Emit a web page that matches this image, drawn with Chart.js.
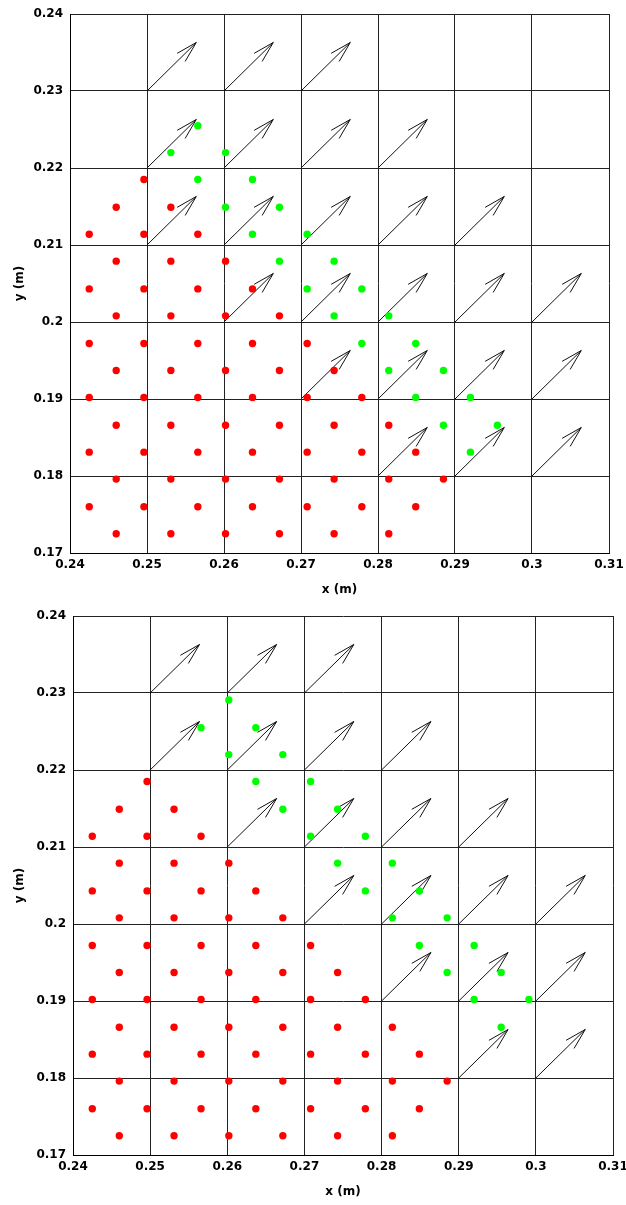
<!DOCTYPE html>
<html>
<head>
<meta charset="utf-8">
<script src="https://cdn.jsdelivr.net/npm/chart.js@4.4.1/dist/chart.umd.min.js"></script>
<style>
  html, body { margin: 0; padding: 0; background: #fff; }
  body { width: 626px; height: 1205px; position: relative; overflow: hidden; }
  canvas { position: absolute; left: 0; }
  #top { top: 0; }
  #bottom { top: 602px; }
</style>
</head>
<body>
<canvas id="top" width="626" height="600"></canvas>
<canvas id="bottom" width="626" height="600"></canvas>
<script>
// axis ticks
const xTickValues = [0.24, 0.25, 0.26, 0.27, 0.28, 0.29, 0.30, 0.31];
const xTickLabels = ['0.24', '0.25', '0.26', '0.27', '0.28', '0.29', '0.3', '0.31'];
const yTickValues = [0.17, 0.18, 0.19, 0.20, 0.21, 0.22, 0.23, 0.24];
const yTickLabels = ['0.17', '0.18', '0.19', '0.2', '0.21', '0.22', '0.23', '0.24'];

// particles, first frame [x, y]
const redTop = [
  [0.2460,0.1725],[0.2531,0.1725],[0.2602,0.1725],[0.2672,0.1725],[0.2743,0.1725],[0.2814,0.1725],
  [0.2425,0.1760],[0.2496,0.1760],[0.2566,0.1760],[0.2637,0.1760],[0.2708,0.1760],[0.2779,0.1760],[0.2849,0.1760],
  [0.2460,0.1796],[0.2531,0.1796],[0.2602,0.1796],[0.2672,0.1796],[0.2743,0.1796],[0.2814,0.1796],[0.2885,0.1796],
  [0.2425,0.1831],[0.2496,0.1831],[0.2566,0.1831],[0.2637,0.1831],[0.2708,0.1831],[0.2779,0.1831],[0.2849,0.1831],
  [0.2460,0.1866],[0.2531,0.1866],[0.2602,0.1866],[0.2672,0.1866],[0.2743,0.1866],[0.2814,0.1866],
  [0.2425,0.1902],[0.2496,0.1902],[0.2566,0.1902],[0.2637,0.1902],[0.2708,0.1902],[0.2779,0.1902],
  [0.2460,0.1937],[0.2531,0.1937],[0.2602,0.1937],[0.2672,0.1937],[0.2743,0.1937],
  [0.2425,0.1972],[0.2496,0.1972],[0.2566,0.1972],[0.2637,0.1972],[0.2708,0.1972],
  [0.2460,0.2008],[0.2531,0.2008],[0.2602,0.2008],[0.2672,0.2008],
  [0.2425,0.2043],[0.2496,0.2043],[0.2566,0.2043],[0.2637,0.2043],
  [0.2460,0.2079],[0.2531,0.2079],[0.2602,0.2079],
  [0.2425,0.2114],[0.2496,0.2114],[0.2566,0.2114],
  [0.2460,0.2149],[0.2531,0.2149],
  [0.2496,0.2185]
];
const greenTop = [
  [0.2920,0.1831],
  [0.2885,0.1866],[0.2955,0.1866],
  [0.2849,0.1902],[0.2920,0.1902],
  [0.2814,0.1937],[0.2885,0.1937],
  [0.2779,0.1972],[0.2849,0.1972],
  [0.2743,0.2008],[0.2814,0.2008],
  [0.2708,0.2043],[0.2779,0.2043],
  [0.2672,0.2079],[0.2743,0.2079],
  [0.2637,0.2114],[0.2708,0.2114],
  [0.2602,0.2149],[0.2672,0.2149],
  [0.2566,0.2185],[0.2637,0.2185],
  [0.2531,0.2220],[0.2602,0.2220],
  [0.2566,0.2255]
];

// particles, second frame [x, y]
const redBottom = [
  [0.2460,0.1725],[0.2531,0.1725],[0.2602,0.1725],[0.2672,0.1725],[0.2743,0.1725],[0.2814,0.1725],
  [0.2425,0.1760],[0.2496,0.1760],[0.2566,0.1760],[0.2637,0.1760],[0.2708,0.1760],[0.2779,0.1760],[0.2849,0.1760],
  [0.2460,0.1796],[0.2531,0.1796],[0.2602,0.1796],[0.2672,0.1796],[0.2743,0.1796],[0.2814,0.1796],[0.2885,0.1796],
  [0.2425,0.1831],[0.2496,0.1831],[0.2566,0.1831],[0.2637,0.1831],[0.2708,0.1831],[0.2779,0.1831],[0.2849,0.1831],
  [0.2460,0.1866],[0.2531,0.1866],[0.2602,0.1866],[0.2672,0.1866],[0.2743,0.1866],[0.2814,0.1866],
  [0.2425,0.1902],[0.2496,0.1902],[0.2566,0.1902],[0.2637,0.1902],[0.2708,0.1902],[0.2779,0.1902],
  [0.2460,0.1937],[0.2531,0.1937],[0.2602,0.1937],[0.2672,0.1937],[0.2743,0.1937],
  [0.2425,0.1972],[0.2496,0.1972],[0.2566,0.1972],[0.2637,0.1972],[0.2708,0.1972],
  [0.2460,0.2008],[0.2531,0.2008],[0.2602,0.2008],[0.2672,0.2008],
  [0.2425,0.2043],[0.2496,0.2043],[0.2566,0.2043],[0.2637,0.2043],
  [0.2460,0.2079],[0.2531,0.2079],[0.2602,0.2079],
  [0.2425,0.2114],[0.2496,0.2114],[0.2566,0.2114],
  [0.2460,0.2149],[0.2531,0.2149],
  [0.2496,0.2185]
];
const greenBottom = [
  [0.2955,0.1866],
  [0.2920,0.1902],[0.2991,0.1902],
  [0.2885,0.1937],[0.2955,0.1937],
  [0.2849,0.1972],[0.2920,0.1972],
  [0.2814,0.2008],[0.2885,0.2008],
  [0.2779,0.2043],[0.2849,0.2043],
  [0.2743,0.2079],[0.2814,0.2079],
  [0.2708,0.2114],[0.2779,0.2114],
  [0.2672,0.2149],[0.2743,0.2149],
  [0.2637,0.2185],[0.2708,0.2185],
  [0.2602,0.2220],[0.2672,0.2220],
  [0.2566,0.2255],[0.2637,0.2255],
  [0.2602,0.2291]
];

// velocity arrows: start points on the grid, same vector everywhere
const arrowsTop = [
  [0.25,0.23],[0.26,0.23],[0.27,0.23],
  [0.25,0.22],[0.26,0.22],[0.27,0.22],[0.28,0.22],
  [0.25,0.21],[0.26,0.21],[0.27,0.21],[0.28,0.21],[0.29,0.21],
  [0.26,0.20],[0.27,0.20],[0.28,0.20],[0.29,0.20],[0.30,0.20],
  [0.27,0.19],[0.28,0.19],[0.29,0.19],[0.30,0.19],
  [0.28,0.18],[0.29,0.18],[0.30,0.18]
];
const arrowsBottom = [
  [0.25,0.23],[0.26,0.23],[0.27,0.23],
  [0.25,0.22],[0.26,0.22],[0.27,0.22],[0.28,0.22],
  [0.26,0.21],[0.27,0.21],[0.28,0.21],[0.29,0.21],
  [0.27,0.20],[0.28,0.20],[0.29,0.20],[0.30,0.20],
  [0.28,0.19],[0.29,0.19],[0.30,0.19],
  [0.29,0.18],[0.30,0.18]
];
const arrowVec = [0.0064, 0.0063];

const tickFont = { family: 'DejaVu Sans', size: 12, weight: 'bold' };

const arrowPlugin = {
  id: 'arrows',
  beforeDatasetsDraw(chart, args, opts) {
    const { ctx, scales: { x, y } } = chart;
    ctx.save();
    ctx.strokeStyle = '#111';
    ctx.lineWidth = 1;
    opts.starts.forEach(([sx, sy]) => {
      const x0 = x.getPixelForValue(sx), y0 = y.getPixelForValue(sy);
      const x1 = x.getPixelForValue(sx + arrowVec[0]), y1 = y.getPixelForValue(sy + arrowVec[1]);
      const ang = Math.atan2(y1 - y0, x1 - x0);
      const len = 22, spread = 15 * Math.PI / 180;
      ctx.beginPath();
      ctx.moveTo(x0, y0);
      ctx.lineTo(x1, y1);
      ctx.moveTo(x1, y1);
      ctx.lineTo(x1 - len * Math.cos(ang - spread), y1 - len * Math.sin(ang - spread));
      ctx.moveTo(x1, y1);
      ctx.lineTo(x1 - len * Math.cos(ang + spread), y1 - len * Math.sin(ang + spread));
      ctx.stroke();
    });
    ctx.restore();
  }
};

function toPts(arr) {
  return arr.map(([px, py]) => ({ x: px, y: py }));
}

function makeChart(id, red, green, arrows, left, right) {
  new Chart(document.getElementById(id), {
    type: 'scatter',
    data: {
      datasets: [
        { data: toPts(red), backgroundColor: '#ff0000', borderWidth: 0, pointRadius: 3.7 },
        { data: toPts(green), backgroundColor: '#00ff00', borderWidth: 0, pointRadius: 3.7 }
      ]
    },
    plugins: [arrowPlugin],
    options: {
      responsive: false,
      animation: false,
      devicePixelRatio: 1,
      layout: { padding: { top: 14, right: 626 - right, bottom: 0, left: 0 } },
      plugins: {
        legend: { display: false },
        tooltip: { enabled: false },
        arrows: { starts: arrows }
      },
      scales: {
        x: {
          type: 'linear',
          min: 0.24,
          max: 0.31,
          afterBuildTicks: s => { s.ticks = xTickValues.map(v => ({ value: v })); },
          afterFit: s => { s.height = 47; s.paddingLeft = 0; s.paddingRight = 0; },
          ticks: {
            callback: (v, i) => xTickLabels[i],
            font: tickFont,
            color: '#000',
            padding: 5,
            maxRotation: 0,
            autoSkip: false
          },
          grid: { color: '#222', lineWidth: 1, drawTicks: false },
          border: { color: '#000', width: 1 },
          title: {
            display: true,
            text: 'x (m)',
            font: tickFont,
            color: '#000',
            padding: { top: 0, bottom: 3 }
          }
        },
        y: {
          type: 'linear',
          min: 0.17,
          max: 0.24,
          afterBuildTicks: s => { s.ticks = yTickValues.map(v => ({ value: v })); },
          afterFit: s => { s.width = left; s.paddingTop = 0; s.paddingBottom = 0; },
          ticks: {
            callback: (v, i) => yTickLabels[i],
            font: tickFont,
            color: '#000',
            padding: 7,
            autoSkip: false
          },
          grid: { color: '#222', lineWidth: 1, drawTicks: false },
          border: { color: '#000', width: 1 },
          title: {
            display: true,
            text: 'y (m)',
            font: tickFont,
            color: '#000',
            padding: { top: 13, bottom: 0 }
          }
        }
      }
    }
  });
}

makeChart('top', redTop, greenTop, arrowsTop, 70, 609);
makeChart('bottom', redBottom, greenBottom, arrowsBottom, 73, 613);
</script>
</body>
</html>
